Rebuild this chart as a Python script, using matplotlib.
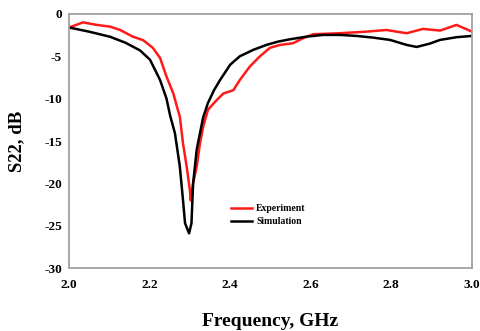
import matplotlib
matplotlib.use("Agg")
import matplotlib.pyplot as plt

# Measured reflection coefficient (S22) versus frequency
exp_freq = [2.000, 2.035, 2.069, 2.102, 2.127, 2.159, 2.184, 2.208, 2.226, 2.242,
            2.259, 2.270, 2.275, 2.283, 2.292, 2.300, 2.302, 2.308, 2.317, 2.325,
            2.333, 2.345, 2.366, 2.383, 2.408, 2.424, 2.449, 2.474, 2.499, 2.524,
            2.556, 2.581, 2.606, 2.672, 2.739, 2.788, 2.838, 2.879, 2.921, 2.962,
            3.000]
exp_s22 = [-1.6, -1.0, -1.3, -1.5, -1.9, -2.7, -3.1, -4.0, -5.2, -7.4,
           -9.4, -11.3, -12.1, -15.3, -18.0, -20.8, -22.0, -20.0, -18.0, -15.3,
           -13.3, -11.3, -10.2, -9.4, -9.0, -7.8, -6.2, -5.0, -4.0, -3.66,
           -3.46, -2.87, -2.4, -2.28, -2.09, -1.9, -2.28, -1.77, -1.97, -1.3,
           -2.09]

# Simulated S22
sim_freq = [2.000, 2.050, 2.102, 2.140, 2.176, 2.201, 2.226, 2.242, 2.251, 2.263,
            2.275, 2.283, 2.288, 2.298, 2.304, 2.308, 2.317, 2.325, 2.333, 2.345,
            2.360, 2.375, 2.400, 2.424, 2.457, 2.490, 2.519, 2.548, 2.590, 2.631,
            2.672, 2.714, 2.755, 2.797, 2.838, 2.863, 2.896, 2.921, 2.962, 3.000]
sim_s22 = [-1.6, -2.1, -2.7, -3.4, -4.3, -5.4, -7.8, -10.0, -12.0, -14.1,
           -18.0, -22.0, -24.7, -25.9, -24.7, -20.0, -16.0, -14.1, -12.2, -10.5,
           -9.0, -7.8, -6.0, -5.0, -4.25, -3.66, -3.27, -3.0, -2.68, -2.48,
           -2.48, -2.6, -2.8, -3.07, -3.66, -3.9, -3.5, -3.07, -2.75, -2.6]

x_ticks = [2.0, 2.2, 2.4, 2.6, 2.8, 3.0]
y_ticks = [0, -5, -10, -15, -20, -25, -30]

plt.rcParams['font.family'] = ['Liberation Serif', 'DejaVu Serif']

fig = plt.figure(figsize=(4.81, 3.31), dpi=100)
ax = fig.add_axes([0.1435, 0.190, 0.8375, 0.768])

ax.plot(exp_freq, exp_s22, color='#ff1a1a', lw=1.8, label='Experiment')
ax.plot(sim_freq, sim_s22, color='black', lw=1.8, label='Simulation')

ax.set_xlim(2.0, 3.0)
ax.set_ylim(-30, 0)
ax.set_xticks(x_ticks)
ax.set_xticklabels([f"{v:.1f}" for v in x_ticks], fontweight='bold', fontsize=9.5)
ax.set_yticks(y_ticks)
ax.set_yticklabels([str(v) for v in y_ticks], fontweight='bold', fontsize=9.5)
ax.tick_params(axis='y', length=0, pad=5)
ax.tick_params(axis='x', length=0, pad=8)

for s in ax.spines.values():
    s.set_color('#a0a0a0')
    s.set_linewidth(1.3)

ax.set_xlabel('Frequency, GHz', fontweight='bold', fontsize=14, labelpad=16)
ax.set_ylabel('S22, dB', fontweight='bold', fontsize=13.5, labelpad=14)

leg = ax.legend(loc='upper left', bbox_to_anchor=(0.38, 0.285), frameon=False,
                prop={'weight': 'bold', 'size': 7}, handlelength=2.2,
                handletextpad=0.4, labelspacing=0.4)

fig.savefig('out.png', dpi=100)
